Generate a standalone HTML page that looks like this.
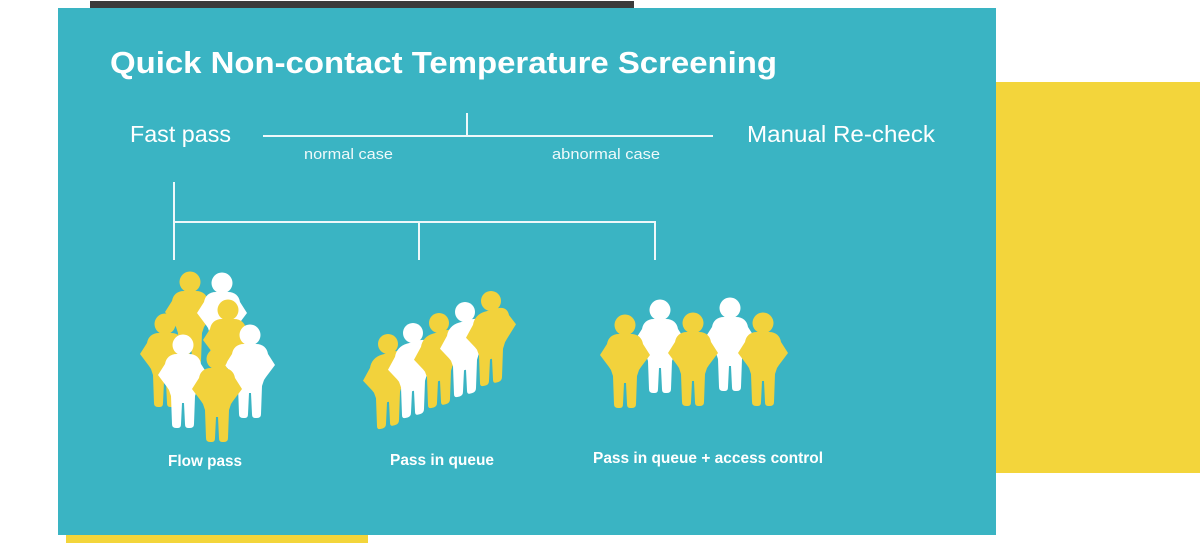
<!DOCTYPE html>
<html>
<head>
<meta charset="utf-8">
<style>
  html,body{margin:0;padding:0;background:#ffffff;}
  body{width:1200px;height:543px;overflow:hidden;}
  svg{display:block;}
  text{font-family:"Liberation Sans",sans-serif;fill:#ffffff;}
</style>
</head>
<body>
<svg width="1200" height="543" viewBox="0 0 1200 543" xmlns="http://www.w3.org/2000/svg">
  <defs>
    <path id="b" d="M -6,9 C -13,9 -17,13 -18,19 L -25,30 L -16,42 L -14,45 L -12,51 L -11,79 Q -11,83 -7,83 L -5,83 Q -2,83 -2,79 L -1,58 L 1,58 L 2,79 Q 2,83 5,83 L 7,83 Q 11,83 11,79 L 12,51 L 14,45 L 16,42 L 25,30 L 18,19 C 17,13 13,9 6,9 Z"/>
    <g id="p">
      <circle cx="0" cy="0" r="10.5"/>
      <use href="#b"/>
    </g>
  </defs>

  <!-- background blocks -->
  <rect x="90" y="1" width="544" height="8" fill="#3b3b3b"/>
  <rect x="996" y="82" width="204" height="391" fill="#F3D53B"/>
  <rect x="66" y="534" width="302" height="9" fill="#F3D53B"/>
  <rect x="58" y="8" width="938" height="527" fill="#3AB4C3"/>

  <!-- title -->
  <text x="110" y="73" font-size="31" font-weight="bold" textLength="667" lengthAdjust="spacingAndGlyphs">Quick Non-contact Temperature Screening</text>

  <!-- top branch -->
  <text x="130" y="142" font-size="23" textLength="101" lengthAdjust="spacingAndGlyphs">Fast pass</text>
  <text x="747" y="142" font-size="23" textLength="188" lengthAdjust="spacingAndGlyphs">Manual Re-check</text>
  <line x1="263" y1="136" x2="713" y2="136" stroke="#eef8fa" stroke-width="2"/>
  <line x1="467" y1="113" x2="467" y2="136" stroke="#eef8fa" stroke-width="2"/>
  <text x="304" y="159" font-size="15" textLength="89" lengthAdjust="spacingAndGlyphs" fill-opacity="0.92">normal case</text>
  <text x="552" y="159" font-size="15" textLength="108" lengthAdjust="spacingAndGlyphs" fill-opacity="0.92">abnormal case</text>

  <!-- tree -->
  <g stroke="#eef8fa" stroke-width="2" fill="none">
    <line x1="174" y1="182" x2="174" y2="260"/>
    <line x1="173" y1="222" x2="655" y2="222"/>
    <line x1="419" y1="222" x2="419" y2="260"/>
    <line x1="655" y1="221" x2="655" y2="260"/>
  </g>

  <!-- group 1: flow pass cluster -->
  <g>
    <use href="#p" transform="translate(190,282)" fill="#F2D23C"/>
    <use href="#p" transform="translate(222,283)" fill="#ffffff"/>
    <use href="#p" transform="translate(165,324)" fill="#F2D23C"/>
    <use href="#p" transform="translate(228,310)" fill="#F2D23C"/>
    <use href="#p" transform="translate(250,335)" fill="#ffffff"/>
    <use href="#p" transform="translate(183,345)" fill="#ffffff"/>
    <use href="#p" transform="translate(217,359)" fill="#F2D23C"/>
  </g>

  <!-- group 2: pass in queue (diagonal) -->
  <g>
    <g fill="#F2D23C"><circle cx="388" cy="344" r="10"/><use href="#b" transform="translate(388,344) skewY(-15)"/></g>
    <g fill="#ffffff"><circle cx="413" cy="333" r="10"/><use href="#b" transform="translate(413,333) skewY(-15)"/></g>
    <g fill="#F2D23C"><circle cx="439" cy="323" r="10"/><use href="#b" transform="translate(439,323) skewY(-15)"/></g>
    <g fill="#ffffff"><circle cx="465" cy="312" r="10"/><use href="#b" transform="translate(465,312) skewY(-15)"/></g>
    <g fill="#F2D23C"><circle cx="491" cy="301" r="10"/><use href="#b" transform="translate(491,301) skewY(-15)"/></g>
  </g>

  <!-- group 3: pass in queue + access control -->
  <g>
    <use href="#p" transform="translate(660,310)" fill="#ffffff"/>
    <use href="#p" transform="translate(730,308)" fill="#ffffff"/>
    <use href="#p" transform="translate(625,325)" fill="#F2D23C"/>
    <use href="#p" transform="translate(693,323)" fill="#F2D23C"/>
    <use href="#p" transform="translate(763,323)" fill="#F2D23C"/>
  </g>

  <!-- bottom labels -->
  <text x="168" y="466" font-size="15.5" font-weight="bold" textLength="74" lengthAdjust="spacingAndGlyphs">Flow pass</text>
  <text x="390" y="465" font-size="15.5" font-weight="bold" textLength="104" lengthAdjust="spacingAndGlyphs">Pass in queue</text>
  <text x="593" y="463" font-size="15.5" font-weight="bold" textLength="230" lengthAdjust="spacingAndGlyphs">Pass in queue + access control</text>
</svg>
</body>
</html>
